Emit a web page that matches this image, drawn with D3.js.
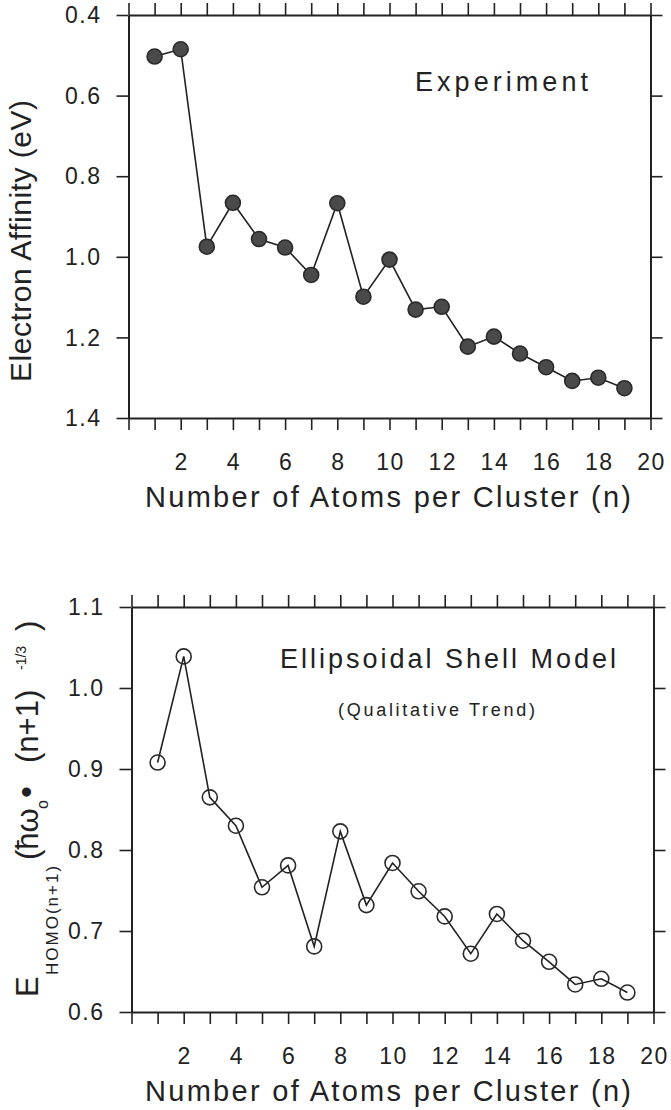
<!DOCTYPE html>
<html>
<head>
<meta charset="utf-8">
<script src="https://cdn.jsdelivr.net/npm/d3@7"></script>
<style>
  body { margin: 0; background: #fff; }
  text { font-family: "Liberation Sans", Arial, sans-serif; fill: #222; }
</style>
</head>
<body>
<div id="chart"></div>
<script>
// cluster size n
var atoms = [1, 2, 3, 4, 5, 6, 7, 8, 9, 10, 11, 12, 13, 14, 15, 16, 17, 18, 19];
// measured electron affinity (eV)
var affinity = [0.503, 0.485, 0.975, 0.866, 0.956, 0.977, 1.045, 0.867, 1.099, 1.007,
                1.131, 1.124, 1.223, 1.198, 1.240, 1.274, 1.308, 1.300, 1.326];
// ellipsoidal shell model HOMO energy
var shellEnergy = [0.908, 1.039, 0.865, 0.830, 0.754, 0.781, 0.681, 0.823, 0.732, 0.784,
                   0.749, 0.718, 0.672, 0.721, 0.688, 0.662, 0.634, 0.641, 0.624];

var xTickValues = [0, 1, 2, 3, 4, 5, 6, 7, 8, 9, 10, 11, 12, 13, 14, 15, 16, 17, 18, 19, 20];
var xTickLabels = [2, 4, 6, 8, 10, 12, 14, 16, 18, 20];
var affinityTicks = [0.4, 0.6, 0.8, 1.0, 1.2, 1.4];
var shellTicks = [0.6, 0.7, 0.8, 0.9, 1.0, 1.1];

var width = 671, height = 1110;

var svg = d3.select("#chart")
.append("svg")
  .attr("width", width)
  .attr("height", height);

svg.append("rect").attr("width", width).attr("height", height).attr("fill", "#fff");

var tickLen = 12;
var ink = "#222";

function drawPanel(p) {
  var x = d3.scaleLinear().domain([0, 20]).range([p.left, p.right]);
  var y = d3.scaleLinear().domain(p.yDomain).range([p.top, p.bottom]);

  var g = svg.append("g");

  // four axes, ticks pointing outward
  g.append("g").attr("transform", "translate(0," + p.top + ")")
    .call(d3.axisTop(x).tickValues(xTickValues).tickSize(tickLen).tickSizeOuter(0).tickFormat(""));
  g.append("g").attr("transform", "translate(0," + p.bottom + ")")
    .call(d3.axisBottom(x).tickValues(xTickValues).tickSize(tickLen).tickSizeOuter(0).tickFormat(""));
  g.append("g").attr("transform", "translate(" + p.left + ",0)")
    .call(d3.axisLeft(y).tickValues(p.yTicks).tickSize(tickLen).tickSizeOuter(0).tickFormat(""));
  g.append("g").attr("transform", "translate(" + p.right + ",0)")
    .call(d3.axisRight(y).tickValues(p.yTicks).tickSize(tickLen).tickSizeOuter(0).tickFormat(""));

  g.selectAll(".domain").attr("stroke", ink).attr("stroke-width", 2);
  g.selectAll(".tick line").attr("stroke", ink).attr("stroke-width", 1.6);

  // y tick labels
  g.selectAll(".ylab")
    .data(p.yTicks)
    .enter()
    .append("text")
      .attr("x", p.left - 27)
      .attr("y", function(d) { return y(d); })
      .attr("dy", "0.36em")
      .attr("text-anchor", "end")
      .style("font-size", "23px")
      .style("letter-spacing", "1.5px")
      .text(function(d) { return d.toFixed(1); });

  // x tick labels
  g.selectAll(".xlab")
    .data(xTickLabels)
    .enter()
    .append("text")
      .attr("x", function(d) { return x(d) + 1; })
      .attr("y", p.bottom + 52)
      .attr("text-anchor", "middle")
      .style("font-size", "23px")
      .style("letter-spacing", "1.5px")
      .text(function(d) { return d; });

  g.append("text")
    .attr("x", 145)
    .attr("y", p.bottom + 89)
    .attr("textLength", 486)
    .attr("lengthAdjust", "spacing")
    .style("font-size", "29px")
    .text("Number of Atoms per Cluster (n)");

  var line = d3.line()
    .x(function(d, i) { return x(atoms[i]); })
    .y(function(d) { return y(d); });

  g.append("path")
    .datum(p.values)
    .attr("d", line)
    .attr("fill", "none")
    .attr("stroke", ink)
    .attr("stroke-width", 1.6);

  g.selectAll(".pt")
    .data(p.values)
    .enter()
    .append("circle")
      .attr("cx", function(d, i) { return x(atoms[i]); })
      .attr("cy", function(d) { return y(d); })
      .attr("r", 7.5)
      .attr("fill", p.filled ? "#4a4a4a" : "none")
      .attr("stroke", "#2a2a2a")
      .attr("stroke-width", 1.6);

  return g;
}

var topPanel = drawPanel({
  left: 128.5, right: 650.5, top: 15, bottom: 418,
  yDomain: [0.4, 1.4], yTicks: affinityTicks,
  values: affinity, filled: true
});

topPanel.append("text")
  .attr("transform", "translate(31,382) rotate(-90)")
  .attr("textLength", 282)
  .attr("lengthAdjust", "spacing")
  .style("font-size", "30px")
  .text("Electron Affinity (eV)");

topPanel.append("text")
  .attr("x", 415)
  .attr("y", 91)
  .attr("textLength", 173)
  .attr("lengthAdjust", "spacing")
  .style("font-size", "27px")
  .text("Experiment");

var bottomPanel = drawPanel({
  left: 131.5, right: 653.5, top: 607, bottom: 1012,
  yDomain: [1.1, 0.6], yTicks: shellTicks,
  values: shellEnergy, filled: false
});

bottomPanel.append("text")
  .attr("x", 280)
  .attr("y", 668)
  .attr("textLength", 336)
  .attr("lengthAdjust", "spacing")
  .style("font-size", "27px")
  .text("Ellipsoidal Shell Model");

bottomPanel.append("text")
  .attr("x", 338)
  .attr("y", 716)
  .attr("textLength", 197)
  .attr("lengthAdjust", "spacing")
  .style("font-size", "18px")
  .text("(Qualitative Trend)");

// composite y title, read bottom to top
var yt = bottomPanel.append("g").attr("transform", "translate(38,997) rotate(-90)");
var pieces = [
  {t: "E", x: 0, dy: 0, size: 31},
  {t: "HOMO(n+1)", x: 22, dy: 20, size: 17, ls: 2},
  {t: "(\u0127\u03c9", x: 137, dy: 0, size: 31},
  {t: "o", x: 188, dy: 10, size: 16},
  {t: "\u2022", x: 199, dy: 0, size: 34},
  {t: "(n+1)", x: 234, dy: 0, size: 31},
  {t: "-1/3", x: 327, dy: -12, size: 14},
  {t: ")", x: 366, dy: 0, size: 31}
];
yt.selectAll("text")
  .data(pieces)
  .enter()
  .append("text")
    .attr("x", function(d) { return d.x; })
    .attr("y", function(d) { return d.dy; })
    .style("font-size", function(d) { return d.size + "px"; })
    .style("letter-spacing", function(d) { return (d.ls || 0) + "px"; })
    .text(function(d) { return d.t; });
</script>
</body>
</html>
